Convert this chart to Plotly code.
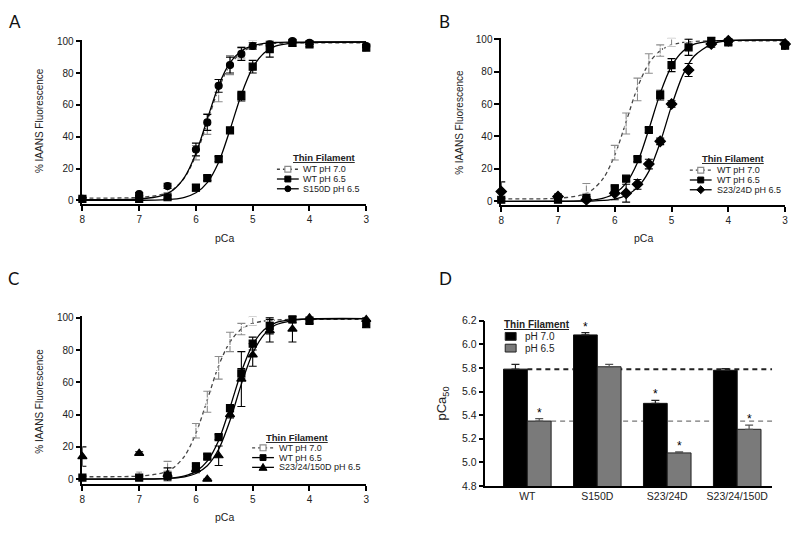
import plotly.graph_objects as go

# ---------------- data ----------------
pCa = [8, 7, 6.5, 6, 5.8, 5.6, 5.4, 5.2, 5.0, 4.7, 4.3, 4.0, 3.0]
wt70 = [1, 3, 8, 30, 48, 69, 85, 93, 98, 99, 99, 99, 98]
wt70_err = [1, 1.5, 3, 4.5, 6.5, 7, 6, 3.5, 2.5, 1, 1, 1, 1]
wt65 = [1, 1, 2, 8, 14, 26, 44, 65.5, 84, 95, 99, 98, 96]
wt65_err = [1, 1, 1, 2, 1.5, 1.5, 1.5, 3, 4, 5, 2, 1.5, 2]
s150d = [1, 4, 9, 32, 49, 72, 85, 92, 97, 98, 100, 99, 97]
s150d_err = [1, 1, 1.5, 4, 5, 4, 5, 4, 2, 1, 1, 1, 1]
s2324d = [6, 3, 1, 5, 5, 10.5, 23, 37, 60, 81, 97, 99, 97]
s2324d_err = [6, 1.5, 1, 4, 5.5, 3, 3, 2, 2, 4, 2, 1, 1]
s2324150d = [14, 16, 3, 6, 0, 14.5, 40, 62, 77, 92, 93, 100, 99]
s2324150d_err = [6, 1, 4, 2, 0, 6, 2, 17, 7, 7, 8, 1, 1]

# fitted curves
fit_x = [8, 7, 6.6, 6.4, 6.2, 6.0, 5.8, 5.6, 5.4, 5.2, 5.0, 4.8, 4.6, 4.3, 4.0, 3.0]
fit_wt70 = [1.5, 1.9, 3.8, 7.0, 14.3, 28.4, 49.1, 70.3, 85.1, 93.0, 96.5, 98.0, 98.6, 99.0, 99.0, 99.0]
fit_wt65 = [0, 0.1, 0.3, 0.8, 2.0, 4.8, 11.2, 24.0, 44.4, 66.6, 83.4, 92.6, 96.9, 98.8, 99.3, 99.5]
fit_s150d = [0.5, 0.9, 3.0, 6.6, 14.6, 29.6, 51.1, 72.2, 86.5, 93.9, 97.2, 98.6, 99.2, 99.4, 99.5, 99.5]
fit_s2324d = [0, 0, 0.1, 0.2, 0.6, 1.4, 3.6, 8.6, 18.5, 36.3, 58.9, 78.0, 89.6, 96.8, 99.1, 99.5]
fit_s2324150d = [0, 0, 0.2, 0.6, 1.4, 3.5, 8.3, 18.5, 36.3, 58.9, 78.0, 89.6, 95.5, 98.3, 99.3, 99.5]

# panel D
mutants = ["WT", "S150D", "S23/24D", "S23/24/150D"]
pca50_ph70 = [5.79, 6.08, 5.50, 5.78]
pca50_ph70_err = [0.04, 0.02, 0.025, 0.015]
pca50_ph65 = [5.35, 5.81, 5.08, 5.28]
pca50_ph65_err = [0.02, 0.02, 0.01, 0.035]
star_ph70 = [False, True, True, False]
star_ph65 = [True, False, True, True]

x_ticks = [8, 7, 6, 5, 4, 3]
y_ticks = [0, 20, 40, 60, 80, 100]
d_ticks = [4.8, 5.0, 5.2, 5.4, 5.6, 5.8, 6.0, 6.2]

# ---------------- helpers ----------------
W, H = 800, 533
FONT = "Liberation Sans, Arial, sans-serif"


def px(x):
    return x / W


def py(y):
    return 1 - y / H


fig = go.Figure()

axis_common = dict(showline=True, linecolor="black", linewidth=1.5, ticks="outside",
                   ticklen=5, tickwidth=1.5, tickcolor="black", showgrid=False,
                   zeroline=False, tickfont=dict(size=10, color="#222", family=FONT))

GRAY = "#8c8c8c"


def add_series(xa, ya, fit_y, y, err, symbol, size, color, mcolor, dashed=False, lcolor="black"):
    fig.add_trace(go.Scatter(x=fit_x, y=fit_y, mode="lines", xaxis=xa, yaxis=ya,
                             line=dict(color=lcolor, width=1.3, shape="spline", smoothing=0.8,
                                       dash="4px,3px" if dashed else "solid"),
                             showlegend=False, hoverinfo="skip"))
    fig.add_trace(go.Scatter(x=pCa, y=y, mode="markers", xaxis=xa, yaxis=ya,
                             marker=dict(symbol=symbol, size=size, color=mcolor,
                                         line=dict(color=color, width=1.2)),
                             error_y=dict(type="data", array=err, color=color, thickness=1.1, width=4),
                             cliponaxis=False, showlegend=False))


panels = [
    ("x", "y", [px(80), px(366)], [py(203), py(34.4)]),
    ("x2", "y2", [px(502), px(788)], [py(204), py(32.3)]),
    ("x3", "y3", [px(80), px(366)], [py(489), py(317.3)]),
]

others = [
    (fit_s150d, s150d, s150d_err, "circle", 7),
    (fit_s2324d, s2324d, s2324d_err, "diamond", 8),
    (fit_s2324150d, s2324150d, s2324150d_err, "triangle-up", 8),
]

for i, (xa, ya, xd, yd) in enumerate(panels):
    add_series(xa, ya, fit_wt70, wt70, wt70_err, "square-open", 7, GRAY, "white",
               dashed=True, lcolor="#444")
    add_series(xa, ya, fit_wt65, wt65, wt65_err, "square", 7, "black", "black")
    fy, dy, de, sym, sz = others[i]
    add_series(xa, ya, fy, dy, de, sym, sz, "black", "black")
    xn = "xaxis" if i == 0 else f"xaxis{i+1}"
    yn = "yaxis" if i == 0 else f"yaxis{i+1}"
    fig.layout[xn] = dict(axis_common, domain=xd, range=[8, 3], anchor=ya,
                          tickvals=x_ticks, ticktext=[str(v) for v in x_ticks])
    rng_bottom = -2.5 if i < 2 else -3
    fig.layout[yn] = dict(axis_common, domain=yd, range=[rng_bottom, 101], anchor=xa,
                          tickvals=y_ticks)

# panel D bars
fig.add_trace(go.Bar(x=mutants, y=pca50_ph70, xaxis="x4", yaxis="y4", name="pH 7.0",
                     marker=dict(color="black", line=dict(color="#111", width=1)),
                     error_y=dict(type="data", array=pca50_ph70_err, symmetric=False,
                                  arrayminus=[0] * 4, color="#222", thickness=1.2, width=4),
                     showlegend=False))
fig.add_trace(go.Bar(x=mutants, y=pca50_ph65, xaxis="x4", yaxis="y4", name="pH 6.5",
                     marker=dict(color="#7a7a7a", line=dict(color="#222", width=1)),
                     error_y=dict(type="data", array=pca50_ph65_err, symmetric=False,
                                  arrayminus=[0] * 4, color="#555", thickness=1.2, width=4),
                     showlegend=False))
fig.layout["xaxis4"] = dict(axis_common, domain=[px(486), px(775)], anchor="y4",
                            range=[-0.6, 3.5], ticks="", tickfont=dict(size=10.5, color="#222", family=FONT))
fig.layout["yaxis4"] = dict(axis_common, domain=[py(491), py(322)], anchor="x4",
                            range=[4.8, 6.2], tickvals=d_ticks,
                            ticktext=[f"{v:.1f}" for v in d_ticks],
                            tickfont=dict(size=10.5, color="#222", family=FONT))
fig.update_layout(barmode="group", bargap=0.32, bargroupgap=0)

# reference dashed lines in D
fig.add_shape(type="line", xref="x4", yref="y4", x0=0, x1=3.5, y0=pca50_ph70[0], y1=pca50_ph70[0],
              line=dict(color="#222", width=2, dash="5px,4px"), layer="below")
fig.add_shape(type="line", xref="x4", yref="y4", x0=0.34, x1=3.5, y0=pca50_ph65[0], y1=pca50_ph65[0],
              line=dict(color="#777", width=1.2, dash="5px,4px"), layer="below")

# asterisks
for i, m in enumerate(mutants):
    if star_ph70[i]:
        fig.add_annotation(x=m, y=pca50_ph70[i] + pca50_ph70_err[i], xref="x4", yref="y4",
                           text="*", showarrow=False, xshift=-12, yanchor="bottom", yshift=-3,
                           font=dict(size=12, color="black", family=FONT))
    if star_ph65[i]:
        fig.add_annotation(x=m, y=pca50_ph65[i] + pca50_ph65_err[i], xref="x4", yref="y4",
                           text="*", showarrow=False, xshift=12, yanchor="bottom", yshift=-3,
                           font=dict(size=12, color="black", family=FONT))


# ---------------- text ----------------
def txt(x, y, s, size=10, angle=0, xanchor="center", color="#222", family=FONT):
    fig.add_annotation(x=px(x), y=py(y), xref="paper", yref="paper", text=s, showarrow=False,
                       xanchor=xanchor, yanchor="middle", textangle=angle,
                       font=dict(size=size, color=color, family=family))


for (lx, ly, lab) in [(12, 16, "A"), (445, 16, "B"), (11, 279, "C"), (446, 279, "D")]:
    txt(lx, ly, lab, size=17, color="#111", family="Lato, Open Sans, sans-serif")

txt(37, 117, "% IAANS Fluorescence", angle=-90)
txt(460, 119, "% IAANS Fluorescence", angle=-90)
txt(37, 404, "% IAANS Fluorescence", angle=-90)
txt(443, 407, "pCa<sub>50</sub>", size=13, angle=-90)
txt(223, 237, "pCa", size=10.5)
txt(645, 237, "pCa", size=10.5)
txt(223, 523, "pCa", size=10.5)


# legends
def key(cx, cy, kind, dashed=False):
    color = "#444" if dashed else "black"
    fig.add_shape(type="line", xref="paper", yref="paper", x0=px(cx - 11), x1=px(cx + 11),
                  y0=py(cy), y1=py(cy),
                  line=dict(color=color, width=1.3, dash="3px,3px" if dashed else "solid"))
    r = 3
    if kind == "open":
        fig.add_shape(type="rect", xref="paper", yref="paper", x0=px(cx - r), x1=px(cx + r),
                      y0=py(cy + r), y1=py(cy - r), fillcolor="white",
                      line=dict(color=GRAY, width=1.2))
    elif kind == "square":
        fig.add_shape(type="rect", xref="paper", yref="paper", x0=px(cx - r), x1=px(cx + r),
                      y0=py(cy + r), y1=py(cy - r), fillcolor="black", line=dict(color="black", width=1))
    elif kind == "circle":
        fig.add_shape(type="circle", xref="paper", yref="paper", x0=px(cx - r), x1=px(cx + r),
                      y0=py(cy + r), y1=py(cy - r), fillcolor="black", line=dict(color="black", width=1))
    elif kind == "diamond":
        d = 4
        path = (f"M {px(cx - d)} {py(cy)} L {px(cx)} {py(cy - d)} L {px(cx + d)} {py(cy)} "
                f"L {px(cx)} {py(cy + d)} Z")
        fig.add_shape(type="path", xref="paper", yref="paper", path=path, fillcolor="black",
                      line=dict(color="black", width=1))
    elif kind == "triangle":
        d = 4
        path = (f"M {px(cx - d)} {py(cy + 3)} L {px(cx)} {py(cy - 4)} L {px(cx + d)} {py(cy + 3)} Z")
        fig.add_shape(type="path", xref="paper", yref="paper", path=path, fillcolor="black",
                      line=dict(color="black", width=1))


def legend(tx, ty, kx, tstart, rows, third_kind, third_label):
    txt(tx, ty, "<b><u>Thin Filament</u></b>", size=9.5, xanchor="left", color="#222")
    labels = ["WT pH 7.0", "WT pH 6.5", third_label]
    kinds = ["open", "square", third_kind]
    for j in range(3):
        key(kx, rows[j], kinds[j], dashed=(j == 0))
        txt(tstart, rows[j], labels[j], size=9, xanchor="left")


legend(290, 155, 287, 300, [167, 177, 187], "circle", "S150D pH 6.5")
legend(702, 156, 703, 717, [168, 178, 188], "diamond", "S23/24D pH 6.5")
legend(263, 441, 262, 276, [452, 462, 472], "triangle", "S23/24/150D pH 6.5")

# legend D
txt(503, 326, "<b><u>Thin Filament</u></b>", size=10, xanchor="left")
for (yy, col, lab) in [(338, "black", "pH 7.0"), (350, "#7a7a7a", "pH 6.5")]:
    fig.add_shape(type="rect", xref="paper", yref="paper", x0=px(506), x1=px(517),
                  y0=py(yy + 4), y1=py(yy - 4), fillcolor=col, line=dict(color="#222", width=1))
    txt(524, yy, lab, size=10, xanchor="left")

fig.update_layout(width=W, height=H, margin=dict(l=0, r=0, t=0, b=0),
                  paper_bgcolor="white", plot_bgcolor="rgba(0,0,0,0)", showlegend=False,
                  font=dict(family=FONT, color="#222"))

fig.write_html("out.html", config={"displayModeBar": False},
               post_script="document.body.style.margin='0';")
